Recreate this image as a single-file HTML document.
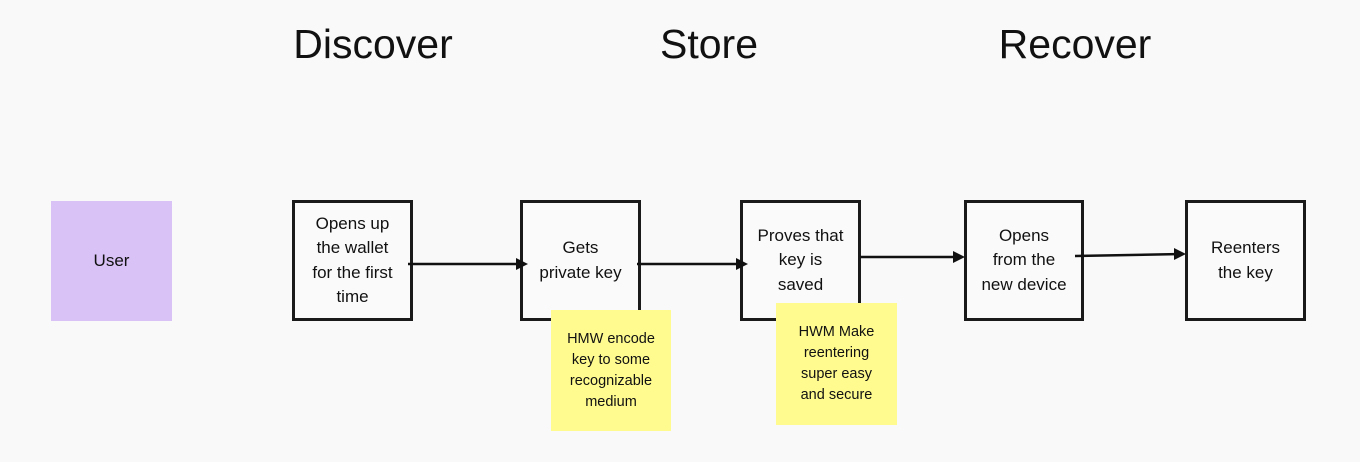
<!DOCTYPE html>
<html><head><style>
body{margin:0;width:1360px;height:462px;background:#f9f9f9;font-family:"Liberation Sans",sans-serif;position:relative;overflow:hidden}
.h{position:absolute;top:21px;font-size:41px;color:#111;transform:translateX(-50%);white-space:nowrap}
.b{position:absolute;box-sizing:border-box;border:3px solid #1a1a1a;display:flex;align-items:center;justify-content:center;text-align:center;font-size:17px;line-height:24.5px;color:#111;background:#fafafa}
.s{position:absolute;background:#fffb8f;display:flex;align-items:center;justify-content:center;text-align:center;font-size:14.5px;line-height:21px;color:#111}
</style></head><body>
<div class="h" style="left:373px">Discover</div>
<div class="h" style="left:709px">Store</div>
<div class="h" style="left:1075px">Recover</div>
<div class="b" style="left:51px;top:201px;width:121px;height:120px;border:none;background:#d9c2f5">User</div>
<div class="b" style="left:292px;top:200px;width:121px;height:121px">Opens up<br>the wallet<br>for the first<br>time</div>
<div class="b" style="left:520px;top:200px;width:121px;height:121px">Gets<br>private key</div>
<div class="b" style="left:740px;top:200px;width:121px;height:121px">Proves that<br>key is<br>saved</div>
<div class="b" style="left:964px;top:200px;width:120px;height:121px">Opens<br>from the<br>new device</div>
<div class="b" style="left:1185px;top:200px;width:121px;height:121px">Reenters<br>the key</div>
<svg style="position:absolute;left:0;top:0" width="1360" height="462">
<g stroke="#111" stroke-width="2.5" fill="none">
<line x1="408" y1="264" x2="518" y2="264"/>
<line x1="637" y1="264" x2="738" y2="264"/>
<line x1="860" y1="257" x2="962" y2="257"/>
<line x1="1075" y1="256" x2="1182" y2="254"/>
</g>
<g fill="#111">
<polygon points="528,264 516,258 516,270"/>
<polygon points="748,264 736,258 736,270"/>
<polygon points="965,257 953,251 953,263"/>
<polygon points="1186,254 1174,248 1174,260"/>
</g>
</svg>
<div class="s" style="left:551px;top:310px;width:120px;height:121px">HMW encode<br>key to some<br>recognizable<br>medium</div>
<div class="s" style="left:776px;top:303px;width:121px;height:122px">HWM Make<br>reentering<br>super easy<br>and secure</div>
</body></html>
